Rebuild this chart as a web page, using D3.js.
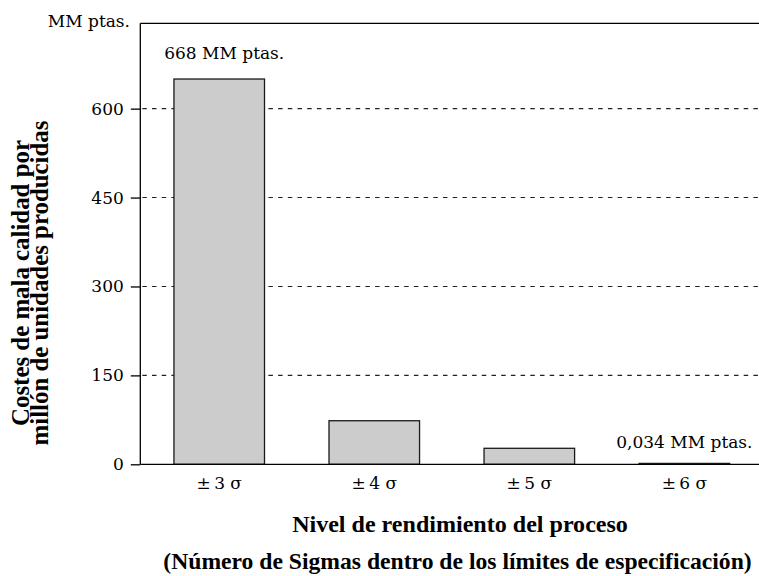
<!DOCTYPE html>
<html>
<head>
<meta charset="utf-8">
<script src="https://cdn.jsdelivr.net/npm/d3@7"></script>
<style>
  html, body { margin: 0; padding: 0; background: #fff; }
  svg { display: block; }
  text { fill: #000; }
</style>
</head>
<body>
<svg id="chart" width="759" height="576"></svg>
<script>
// ---- data ----
const categories = ["\u00B1\u20093 \u03C3", "\u00B1\u20094 \u03C3", "\u00B1\u20095 \u03C3", "\u00B1\u20096 \u03C3"];
const values = [650, 73.5, 27, 1.5];
const yTicks = [0, 150, 300, 450, 600];
const yMax = 744;
const barLabels = ["668 MM ptas.", "", "", "0,034 MM ptas."];
const unitLabel = "MM ptas.";
const yTitle = ["Costes de mala calidad por", "millón de unidades producidas"];
const xTitle = ["Nivel de rendimiento del proceso", "(Número de Sigmas dentro de los límites de especificación)"];

// ---- layout ----
const mLeft = 140.3, mTop = 23.3, mBottom = 464.3, mRight = 759;
const serif = "'DejaVu Serif', serif";
const boldSerif = "'Liberation Serif', 'DejaVu Serif', serif";

const svg = d3.select("#chart");

const x = d3.scaleBand()
  .domain(categories)
  .range([mLeft, 763.3])
  .paddingInner(0.416)
  .paddingOuter(0.217);

const y = d3.scaleLinear().domain([0, yMax]).range([mBottom, mTop]);

// gridlines (dashed)
svg.append("g")
  .selectAll("line")
  .data(yTicks.filter(d => d > 0))
  .join("line")
  .attr("x1", mLeft + 2)
  .attr("x2", mRight)
  .attr("y1", d => y(d))
  .attr("y2", d => y(d))
  .attr("stroke", "#222")
  .attr("stroke-width", 1.1)
  .attr("stroke-dasharray", "4.5,5.2");

// top border
svg.append("line")
  .attr("x1", mLeft).attr("x2", mRight)
  .attr("y1", mTop).attr("y2", mTop)
  .attr("stroke", "#000").attr("stroke-width", 1.3);

// bars
svg.append("g")
  .selectAll("rect")
  .data(values)
  .join("rect")
  .attr("x", (d, i) => x(categories[i]))
  .attr("width", x.bandwidth())
  .attr("y", d => y(d))
  .attr("height", d => mBottom - y(d))
  .attr("fill", "#cccccc")
  .attr("stroke", "#1a1a1a")
  .attr("stroke-width", 1.3);

// y axis
const yAxis = d3.axisLeft(y).tickValues(yTicks).tickSize(9.5).tickPadding(7).tickFormat(d3.format("d"));
const gy = svg.append("g").attr("transform", `translate(${mLeft},0)`).call(yAxis);
gy.select(".domain").attr("d", `M0,${mTop}V${mBottom}`).attr("stroke", "#000").attr("stroke-width", 1.3);
gy.selectAll(".tick line").attr("stroke", "#000").attr("stroke-width", 1.3);
gy.selectAll(".tick text").attr("font-family", serif).attr("font-size", 17).attr("fill", "#000");

// x axis
const xAxis = d3.axisBottom(x).tickSize(0).tickPadding(13);
const gx = svg.append("g").attr("transform", `translate(0,${mBottom})`).call(xAxis);
gx.select(".domain").attr("d", `M${mLeft},0H${mRight}`).attr("stroke", "#000").attr("stroke-width", 1.3);
gx.selectAll(".tick text").attr("font-family", serif).attr("font-size", 17).attr("fill", "#000");

// bar labels
svg.append("g")
  .selectAll("text")
  .data(barLabels)
  .join("text")
  .attr("x", (d, i) => x(categories[i]) + x.bandwidth() / 2 + (i === 0 ? 5 : 0))
  .attr("y", (d, i) => i === 0 ? 59 : y(values[i]) - 15)
  .attr("text-anchor", "middle")
  .attr("font-family", serif)
  .attr("font-size", 17)
  .text(d => d);

// unit label
svg.append("text")
  .attr("x", 130).attr("y", 27)
  .attr("text-anchor", "end")
  .attr("font-family", serif)
  .attr("font-size", 17)
  .text(unitLabel);

function fit(sel, target) {
  const n = sel.node();
  const base = +sel.attr("font-size");
  const w = n.getComputedTextLength();
  if (w > 0) sel.attr("font-size", base * target / w);
  return +sel.attr("font-size");
}

// y title (both lines same size)
const yt = svg.append("g").attr("transform", "translate(0,283) rotate(-90)");
const yt2 = yt.append("text").attr("x", 0).attr("y", 48).attr("text-anchor", "middle")
  .attr("font-family", boldSerif).attr("font-weight", "bold").attr("font-size", 18).text(yTitle[1]);
const ySize = fit(yt2, 325);
yt.append("text").attr("x", 0).attr("y", 28.5).attr("text-anchor", "middle")
  .attr("font-family", boldSerif).attr("font-weight", "bold").attr("font-size", ySize).text(yTitle[0]);

// x title
const xt1 = svg.append("text").attr("x", 460).attr("y", 532).attr("text-anchor", "middle")
  .attr("font-family", boldSerif).attr("font-weight", "bold").attr("font-size", 18).text(xTitle[0]);
const xt2 = svg.append("text").attr("x", 457.5).attr("y", 569).attr("text-anchor", "middle")
  .attr("font-family", boldSerif).attr("font-weight", "bold").attr("font-size", 18).text(xTitle[1]);
fit(xt1, 336); fit(xt2, 589);
</script>
</body>
</html>
